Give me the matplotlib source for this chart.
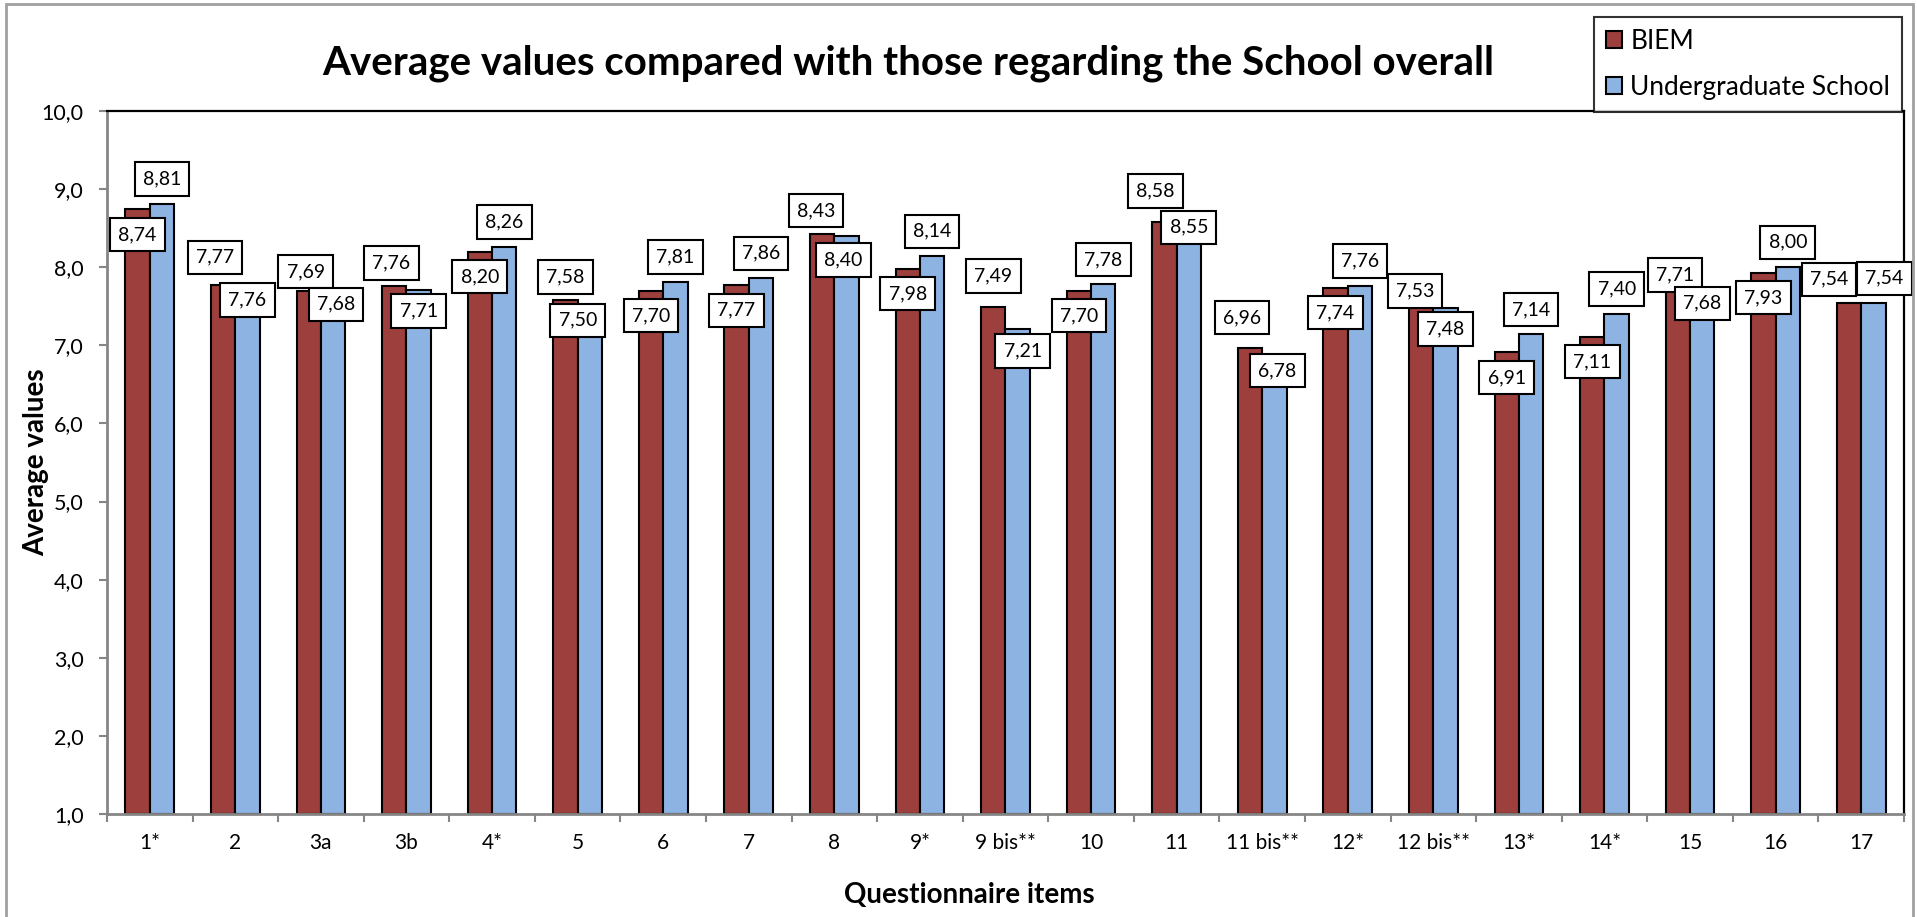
import matplotlib
matplotlib.use('Agg')
import matplotlib.pyplot as plt
from matplotlib.patches import Rectangle
from matplotlib.ticker import FuncFormatter, FixedLocator
import numpy as np

plt.rcParams['font.family'] = ['Lato', 'DejaVu Sans']

items = ['1*', '2', '3a', '3b', '4*', '5', '6', '7', '8', '9*', '9 bis**', '10',
         '11', '11 bis**', '12*', '12 bis**', '13*', '14*', '15', '16', '17']
biem = [8.74, 7.77, 7.69, 7.76, 8.20, 7.58, 7.70, 7.77, 8.43, 7.98, 7.49, 7.70,
        8.58, 6.96, 7.74, 7.53, 6.91, 7.11, 7.71, 7.93, 7.54]
school = [8.81, 7.76, 7.68, 7.71, 8.26, 7.50, 7.81, 7.86, 8.40, 8.14, 7.21, 7.78,
          8.55, 6.78, 7.76, 7.48, 7.14, 7.40, 7.68, 8.00, 7.54]

# label offsets (pixels) as placed in the original chart
biem_dx = [0, -8, -3, -3, 0, 0, 0, 0, -6, 0, 0, 0, -9, -8, 0, -6, 0, 0, -3, 0, -20]
biem_dy = [-25, 28, 20, 23, -25, 23, -25, -25, 23, -25, 31, -25, 31, 31, -25, 13, -25, -25, 15, -25, 24]
school_dx = [0, 0, 3, 0, 0, -12, 0, 0, -3, 0, 5, 0, 0, 3, 0, 0, 0, 0, 0, 0, 11]
school_dy = [25, -14, -12, -21, 25, -14, 25, 25, -24, 25, -22, 25, -3, -8, 25, -21, 25, 25, -11, 25, 25]

red = '#9C3F3D'
blue = '#8DB3E2'
grey = '#868686'

fig = plt.figure(figsize=(19.17, 9.17), dpi=100)
ax = fig.add_axes([0.0558, 0.1123, 0.9374, 0.7666])

x = np.arange(len(items))
w = 0.285
ax.bar(x - w / 2, np.array(biem) - 1, w, bottom=1, color=red, edgecolor='black', linewidth=1.5, label='BIEM', zorder=2)
ax.bar(x + w / 2, np.array(school) - 1, w, bottom=1, color=blue, edgecolor='black', linewidth=1.5,
       label='Undergraduate School', zorder=2)

ax.set_xlim(-0.5, len(items) - 0.5)
ax.set_ylim(1, 10)
ax.set_yticks(np.arange(1, 11, 1))
ax.yaxis.set_major_formatter(FuncFormatter(lambda v, p: f'{v:.1f}'.replace('.', ',')))
ax.set_xticks(x)
ax.set_xticklabels(items)
ax.xaxis.set_minor_locator(FixedLocator(np.arange(-0.5, len(items), 1)))
ax.tick_params(axis='x', which='major', length=0, pad=14, labelsize=15)
ax.tick_params(axis='x', which='minor', length=5.8, width=1.5, color=grey, direction='out')
ax.tick_params(axis='y', length=5.8, width=1.5, color=grey, pad=11, labelsize=15.5)

for s in ['left', 'bottom']:
    ax.spines[s].set_color(grey)
    ax.spines[s].set_linewidth(2)
for s in ['top', 'right']:
    ax.spines[s].set_color('black')
    ax.spines[s].set_linewidth(1.6)

box = dict(boxstyle='square,pad=0.42', fc='white', ec='black', lw=1.5)
for i in range(len(items)):
    ax.annotate(f'{biem[i]:.2f}'.replace('.', ','), xy=(x[i] - w / 2, biem[i]),
                xytext=(biem_dx[i], biem_dy[i]), textcoords='offset pixels',
                ha='center', va='center', fontsize=14, bbox=box, zorder=3)
for i in range(len(items)):
    ax.annotate(f'{school[i]:.2f}'.replace('.', ','), xy=(x[i] + w / 2, school[i]),
                xytext=(school_dx[i], school_dy[i]), textcoords='offset pixels',
                ha='center', va='center', fontsize=14, bbox=box, zorder=4)

fig.text(0.4737, 0.931, 'Average values compared with those regarding the School overall',
         ha='center', va='center', fontsize=29, fontweight='bold')
fig.text(0.019, 0.496, 'Average values', rotation=90, ha='center', va='center',
         fontsize=20, fontweight='bold')
fig.text(0.5055, 0.024, 'Questionnaire items', ha='center', va='center',
         fontsize=20, fontweight='bold')

leg = fig.legend(loc='upper right', bbox_to_anchor=(1902 / 1917, 1 - 17 / 917), fontsize=19,
                 frameon=True, fancybox=False, edgecolor='black', handlelength=0.62,
                 handleheight=0.62, handletextpad=0.3, labelspacing=0.8, borderpad=0.45,
                 borderaxespad=0)
leg.get_frame().set_linewidth(1.5)

fig.patches.append(Rectangle((0.003, -0.01), 0.995, 1.006, transform=fig.transFigure,
                             fill=False, edgecolor='#a0a0a0', linewidth=2))

fig.savefig('out.png', dpi=100)
